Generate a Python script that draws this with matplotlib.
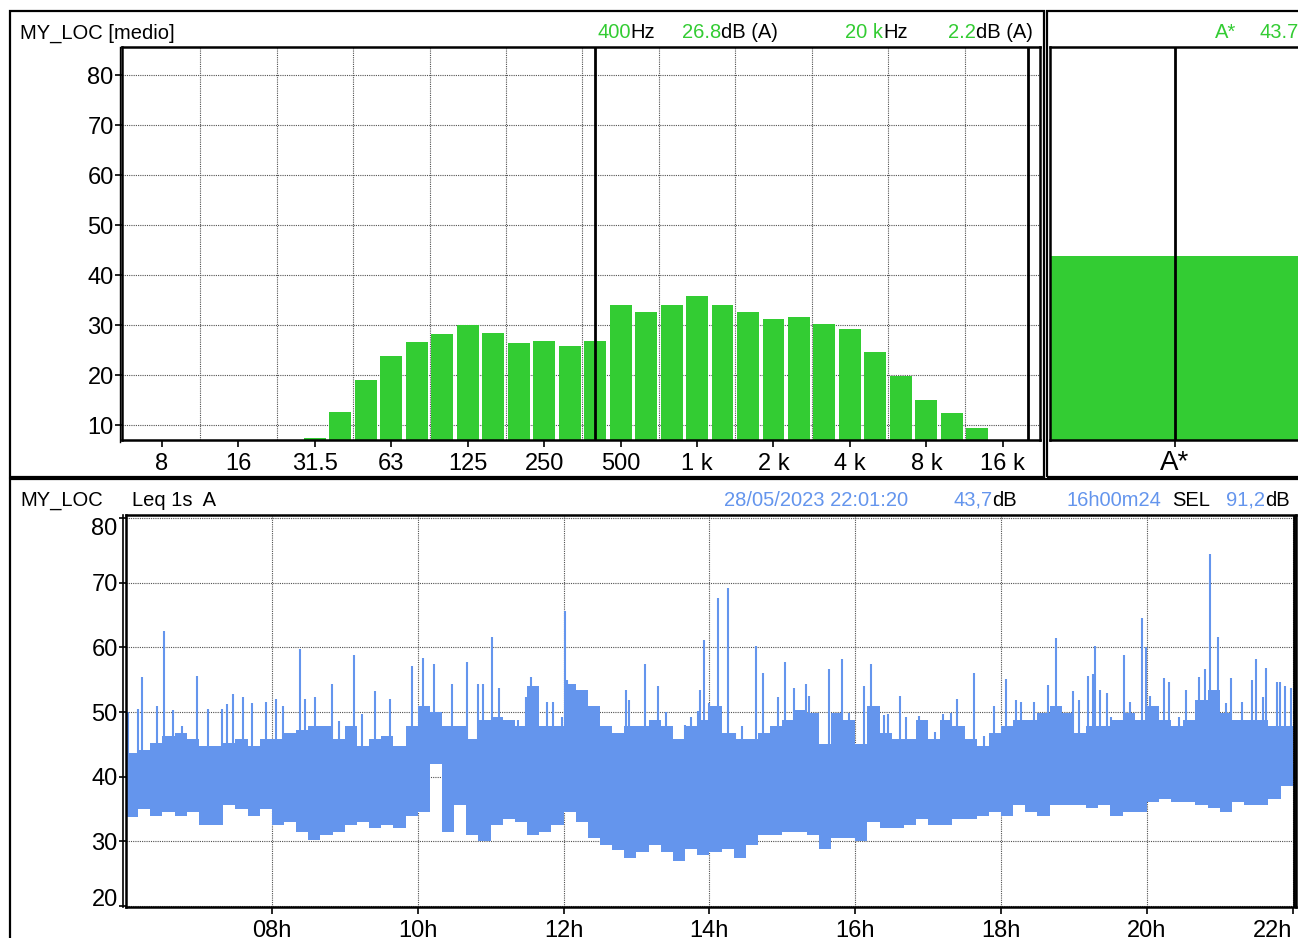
import matplotlib
matplotlib.use('Agg')
import matplotlib.pyplot as plt
from matplotlib.lines import Line2D
from matplotlib.patches import Rectangle
import numpy as np

plt.rcParams['font.family'] = ['Liberation Sans', 'DejaVu Sans']

GREEN = '#33cc33'
BLUE = '#6495ed'
GRID = '#505050'

# 1/3 octave spectrum (dB(A)), 8 Hz .. 20 kHz
bands = ['8', '10', '12.5', '16', '20', '25', '31.5', '40', '50', '63', '80', '100',
         '125', '160', '200', '250', '315', '400', '500', '630', '800', '1 k', '1.25 k',
         '1.6 k', '2 k', '2.5 k', '3.15 k', '4 k', '5 k', '6.3 k', '8 k', '10 k',
         '12.5 k', '16 k', '20 k']
levels = [0, 0, 0, 0, 0, 0, 7.4, 12.7, 19.0, 23.7, 26.5, 28.1,
          29.9, 28.3, 26.3, 26.9, 25.9, 26.8, 34.0, 32.6, 34.0, 35.8, 34.0,
          32.6, 31.1, 31.5, 30.1, 29.2, 24.5, 19.8, 15.1, 12.5,
          9.4, 0, 0]
shown_bands = ['8', '16', '31.5', '63', '125', '250', '500', '1 k', '2 k', '4 k', '8 k', '16 k']
cursor_band = '400'
end_band = '20 k'
total_label = 'A*'
total_level = 43.7

# Leq 1s time history, summarised per 10 min: lower / upper edge of the dense band
band_start = [6 + i / 6 for i in range(97)]   # hours, 06:00 .. 22:00
band_end = 22.022
band_low = [33.8, 35.0, 34.0, 34.5, 34.0, 34.5, 32.5, 32.5, 35.6, 35.0, 34.0, 35.0,
            32.5, 33.0, 31.5, 30.2, 31.0, 31.5, 32.5, 33.0, 32.0, 32.5, 32.0, 34.0,
            34.5, 42.0, 31.5, 35.6, 31.0, 30.0, 32.5, 33.5, 33.0, 31.0, 31.5, 32.5,
            34.5, 33.0, 30.5, 29.4, 28.7, 27.4, 28.4, 29.4, 28.4, 26.9, 28.9, 27.9,
            28.4, 28.9, 27.4, 29.4, 31.0, 31.0, 31.5, 31.5, 31.0, 28.9, 30.5, 30.5,
            30.0, 33.0, 32.0, 32.0, 32.5, 33.5, 32.5, 32.5, 33.5, 33.5, 34.0, 34.5,
            34.0, 35.6, 34.5, 34.0, 35.6, 35.6, 35.6, 35.1, 35.6, 34.0, 34.5, 34.5,
            36.1, 36.6, 36.1, 36.1, 35.6, 35.1, 34.5, 36.1, 35.6, 35.6, 36.6, 38.6,
            39.6]
band_high = [43.7, 44.2, 45.3, 46.3, 46.8, 45.8, 44.7, 44.7, 45.3, 45.8, 44.7, 45.8,
             45.8, 46.8, 47.3, 47.8, 47.8, 45.8, 47.8, 44.7, 45.8, 46.3, 44.7, 47.8,
             50.9, 50.0, 47.8, 47.8, 45.8, 48.8, 49.3, 48.8, 47.8, 54.0, 47.8, 47.8,
             54.4, 53.4, 50.9, 47.8, 46.8, 47.8, 47.8, 48.8, 47.8, 45.8, 47.8, 48.8,
             50.9, 46.8, 45.8, 45.8, 46.8, 47.8, 48.8, 50.4, 49.8, 45.0, 49.8, 48.8,
             45.0, 50.9, 46.8, 45.8, 45.8, 48.8, 45.8, 48.8, 47.8, 45.8, 44.7, 46.8,
             47.8, 48.8, 48.8, 49.8, 50.9, 49.8, 46.8, 47.8, 47.8, 48.8, 49.8, 48.8,
             50.9, 48.8, 47.8, 48.8, 51.9, 53.4, 49.8, 48.8, 48.8, 48.8, 47.8, 47.8,
             42.0]

# single events above the band (hour, peak dB)
spike_hour = [6.03, 6.17, 6.225, 6.42, 6.52, 6.65, 6.77, 6.97, 7.12, 7.31, 7.38, 7.47,
              7.60, 7.73, 7.92, 8.06, 8.15, 8.39, 8.45, 8.59, 8.82, 8.92, 9.12, 9.24,
              9.42, 9.62, 9.92, 10.07, 10.22, 10.47, 10.67, 10.83, 10.90, 11.02, 11.12,
              11.38, 11.48, 11.55, 11.77, 11.86, 11.98, 12.025, 12.05, 12.85, 12.90,
              13.12, 13.29, 13.40, 13.66, 13.75, 13.85, 13.875, 13.92, 14.00, 14.12,
              14.25, 14.35, 14.45, 14.64, 14.74, 14.94, 15.04, 15.16, 15.32, 15.37,
              15.64, 15.82, 15.91, 16.12, 16.22, 16.39, 16.45, 16.62, 16.70, 16.87,
              17.10, 17.20, 17.31, 17.39, 17.63, 17.76, 17.91, 18.07, 18.20, 18.27,
              18.45, 18.65, 18.76, 18.98, 19.065, 19.19, 19.26, 19.285, 19.36, 19.45,
              19.51, 19.68, 19.77, 19.935, 19.99, 20.045, 20.24, 20.31, 20.44, 20.54,
              20.71, 20.80, 20.86, 20.97, 21.09, 21.16, 21.31, 21.44, 21.49, 21.59,
              21.64, 21.78, 21.83, 21.90, 21.97]
spike_peak = [50.0, 50.5, 55.4, 51.0, 62.5, 50.4, 47.8, 55.6, 50.5, 50.5, 51.2, 52.8,
              52.4, 51.4, 51.6, 52.1, 50.9, 59.8, 52.1, 52.4, 54.4, 48.6, 58.9, 49.7,
              53.3, 52.1, 57.2, 58.4, 57.5, 54.4, 57.8, 54.4, 54.4, 61.6, 53.7,
              48.8, 52.4, 55.5, 51.6, 51.6, 49.2, 65.7, 55.0, 53.4, 51.9,
              57.5, 54.0, 50.0, 48.0, 49.2, 50.2, 53.4, 61.2, 51.4, 67.6,
              69.2, 46.8, 47.8, 60.3, 56.0, 52.4, 57.8, 53.7, 54.4, 52.5,
              56.7, 58.2, 49.9, 54.0, 57.5, 49.6, 49.7, 52.5, 49.3, 49.4,
              46.9, 49.7, 49.9, 52.0, 56.1, 46.3, 50.9, 55.1, 51.9, 51.6,
              51.6, 54.2, 61.4, 53.2, 51.9, 55.6, 55.9, 60.3, 53.4, 53.0,
              49.2, 58.9, 51.6, 64.5, 60.0, 52.5, 55.3, 54.7, 49.2, 53.4,
              55.4, 56.7, 74.5, 61.7, 51.4, 55.3, 51.6, 55.0, 58.2, 52.4,
              56.9, 54.7, 54.7, 54.0, 53.7]
hour_ticks = [8, 10, 12, 14, 16, 18, 20, 22]

W, H = 1298, 938
fig = plt.figure(figsize=(W / 100, H / 100), dpi=100)
renderer = fig.canvas.get_renderer()


def fx(x):
    return x / W


def fy(y):
    return 1 - y / H


def box(x0, y0, x1, y1, lw=1.6):
    fig.add_artist(Rectangle((fx(x0), fy(y1)), fx(x1) - fx(x0), fy(y0) - fy(y1),
                             transform=fig.transFigure, fill=False, lw=lw, color='black'))


def label(x, y, parts, size=14.5):
    # coloured pieces written one after the other
    for s, c in parts:
        t = fig.text(fx(x), fy(y), s, color=c, fontsize=size, ha='left', va='center')
        x = t.get_window_extent(renderer).x1


def frame(ax):
    for s in ax.spines.values():
        s.set_linewidth(1.8)
    ax.tick_params(direction='out', length=5, width=1.2, labelsize=17, pad=1)


K = 'black'

# ---- spectrum
ax1 = fig.add_axes([fx(122), fy(440), fx(1040) - fx(122), fy(47) - fy(440)])
idx = np.arange(len(bands))
ax1.bar(idx, levels, width=0.86, color=GREEN, lw=0, zorder=2)
ax1.set_xlim(-1.57, 34.46)
ax1.set_ylim(7, 85.6)
ax1.set_xticks([bands.index(b) for b in shown_bands])
ax1.set_xticklabels(shown_bands)
ax1.set_xticks([bands.index(b) + 1.5 for b in shown_bands[:-1]], minor=True)
ax1.set_yticks(range(10, 81, 10))
ax1.tick_params(axis='x', which='minor', length=0)
ax1.grid(True, which='minor', axis='x', color=GRID, ls=(0, (1, 1)), lw=0.8)
ax1.grid(True, which='major', axis='y', color=GRID, ls=(0, (1, 1)), lw=0.8)
ax1.set_axisbelow(True)
ax1.axvline(bands.index(cursor_band), color=K, lw=2, zorder=3)
ax1.axvline(bands.index(end_band), color=K, lw=2, zorder=3)
frame(ax1)
ax1.tick_params(axis='x', pad=4)

# ---- overall A level
ax2 = fig.add_axes([fx(1050), fy(440), fx(1300) - fx(1050), fy(47) - fy(440)])
ax2.bar([0], [total_level], width=1.0, color=GREEN, lw=0)
ax2.set_xlim(-0.5, 0.5)
ax2.set_ylim(7, 85.6)
ax2.set_xticks([0])
ax2.set_xticklabels([total_label])
ax2.set_yticks([])
ax2.axvline(0, color=K, lw=2)
frame(ax2)
ax2.tick_params(labelsize=20, pad=2)

# ---- time history
ax3 = fig.add_axes([fx(126), fy(907), fx(1296) - fx(126), fy(515) - fy(907)])
edges = band_start + [band_end]
ax3.fill_between(edges, band_low + [band_low[-1]], band_high + [band_high[-1]],
                 step='post', color=BLUE, lw=0, zorder=2)
ax3.vlines(spike_hour, 42, spike_peak, color=BLUE, lw=1.5, zorder=2)
ax3.set_xlim(6.0, 22.045)
ax3.set_ylim(19.85, 80.5)
ax3.set_xticks(hour_ticks)
ax3.set_xticklabels([f'{h:02d}h' for h in hour_ticks])
ax3.set_yticks(range(20, 81, 10))
ax3.grid(True, color=GRID, ls=(0, (1, 1)), lw=0.8)
ax3.set_axisbelow(True)
ax3.axvline(band_end, color=K, lw=2, zorder=3)
frame(ax3)
ax3.tick_params(axis='x', pad=4)
ax3.get_xticklabels()[-1].set_ha('right')
ylabs = ax3.get_yticklabels()
ylabs[0].set_va('baseline')
ylabs[-1].set_va('top')
fig.add_artist(Line2D([fx(123), fx(123)], [fy(907), fy(515)], color=K, lw=1.2,
                      transform=fig.transFigure))
fig.add_artist(Line2D([fx(119.5), fx(119.5)], [fy(442), fy(47)], color=K, lw=1.0,
                      transform=fig.transFigure))

# ---- panel boxes
box(10, 11, 1044, 477)
box(1047, 11, 1302, 477)
box(10, 479, 1302, 942)

# ---- headers
label(20, 33, [('MY_LOC [medio]', K)])
label(597, 33, [('400', GREEN), ('Hz', K)])
label(682, 33, [('26.8', GREEN), ('dB (A)', K)])
label(845, 33, [('20 k', GREEN), ('Hz', K)])
label(948, 33, [('2.2', GREEN), ('dB (A)', K)])
label(1215, 33, [('A*', GREEN)])
label(1260, 33, [('43.7', GREEN)])

label(20, 500, [('MY_LOC', K)])
label(132, 500, [('Leq 1s  A', K)])
label(724, 500, [('28/05/2023 22:01:20', BLUE)])
label(953, 500, [('43,7', BLUE), ('dB', K)])
label(1067, 500, [('16h00m24', BLUE)])
label(1172, 500, [('SEL', K)])
label(1226, 500, [('91,2', BLUE), ('dB', K)])

fig.savefig('out.png', dpi=100)
